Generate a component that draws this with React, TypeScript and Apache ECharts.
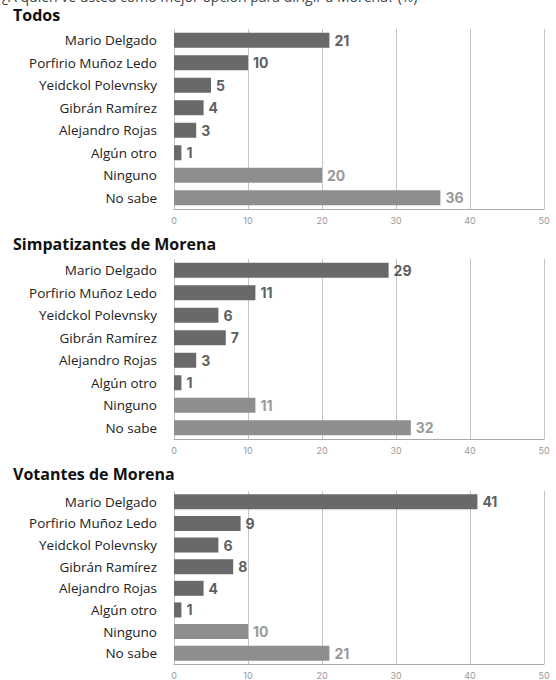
import React, { useEffect, useRef } from "react";
import * as echarts from "echarts";

const question = "¿A quién ve usted como mejor opción para dirigir a Morena? (%)";
const panelTitles = ["Todos", "Simpatizantes de Morena", "Votantes de Morena"];
const categories = [
  "Mario Delgado",
  "Porfirio Muñoz Ledo",
  "Yeidckol Polevnsky",
  "Gibrán Ramírez",
  "Alejandro Rojas",
  "Algún otro",
  "Ninguno",
  "No sabe",
];
const todos = [21, 10, 5, 4, 3, 1, 20, 36];
const simpatizantes = [29, 11, 6, 7, 3, 1, 11, 32];
const votantes = [41, 9, 6, 8, 4, 1, 10, 21];
const xTicks = [0, 10, 20, 30, 40, 50];

const panels = [todos, simpatizantes, votantes];
const gridTops = [29, 259, 491];
const gridHeight = 180;
const titleYs = [18, 247, 477];

const DARK = "#696969";
const LIGHT = "#8e8e8e";
const DARK_LABEL = "#5f5f5f";
const LIGHT_LABEL = "#9a9a9a";

export default function App() {
  const ref = useRef<HTMLDivElement>(null);
  useEffect(() => {
    if (!ref.current) return;
    const chart = echarts.init(ref.current, null, { renderer: "svg" });
    const grids = panels.map((_, i) => ({
      left: 174,
      right: 12,
      top: gridTops[i],
      height: gridHeight,
      containLabel: false,
    }));
    const xAxes = panels.map((_, i) => ({
      type: "value",
      gridIndex: i,
      min: xTicks[0],
      max: xTicks[xTicks.length - 1],
      interval: 10,
      axisLine: { show: true, lineStyle: { color: "#aaaaaa", width: 1 } },
      axisTick: { show: false },
      splitLine: { show: true, lineStyle: { color: "#c4c4c4", width: 1 } },
      axisLabel: {
        color: "#999999",
        fontSize: 9,
        fontFamily: "Inter",
        margin: 7,
        showMinLabel: true,
        showMaxLabel: true,
      },
    }));
    const yAxes = panels.map((_, i) => ({
      type: "category",
      gridIndex: i,
      data: categories,
      inverse: true,
      axisLine: { show: false },
      axisTick: { show: false },
      splitLine: { show: false },
      axisLabel: {
        color: "#222222",
        fontSize: 13.5,
        fontFamily: "Open Sans",
        margin: 17,
      },
    }));
    const series = panels.map((vals, i) => ({
      type: "bar",
      xAxisIndex: i,
      yAxisIndex: i,
      barWidth: 15,
      data: vals.map((v, j) => ({
        value: v,
        itemStyle: { color: j >= 6 ? LIGHT : DARK },
        label: { color: j >= 6 ? LIGHT_LABEL : DARK_LABEL },
      })),
      label: {
        show: true,
        position: "right",
        distance: 5,
        fontSize: 14,
        fontWeight: "bold",
        fontFamily: "Inter",
      },
    }));
    const graphic: any[] = [
      {
        type: "text",
        left: 2,
        top: -11,
        style: {
          text: question,
          fontSize: 14,
          fontFamily: "Open Sans",
          fill: "#444444",
        },
      },
      ...panelTitles.map((t, i) => ({
        type: "text",
        left: 13,
        top: titleYs[i] - 11,
        style: {
          text: t,
          fontSize: 16,
          fontWeight: "bold",
          fontFamily: "Open Sans",
          fill: "#111111",
        },
      })),
    ];
    chart.setOption({
      animation: false,
      backgroundColor: "#ffffff",
      grid: grids,
      xAxis: xAxes,
      yAxis: yAxes,
      series,
      graphic,
    });
    return () => chart.dispose();
  }, []);
  return (
    <div
      ref={ref}
      style={{ position: "fixed", left: 0, top: 0, width: 556, height: 680 }}
    />
  );
}
